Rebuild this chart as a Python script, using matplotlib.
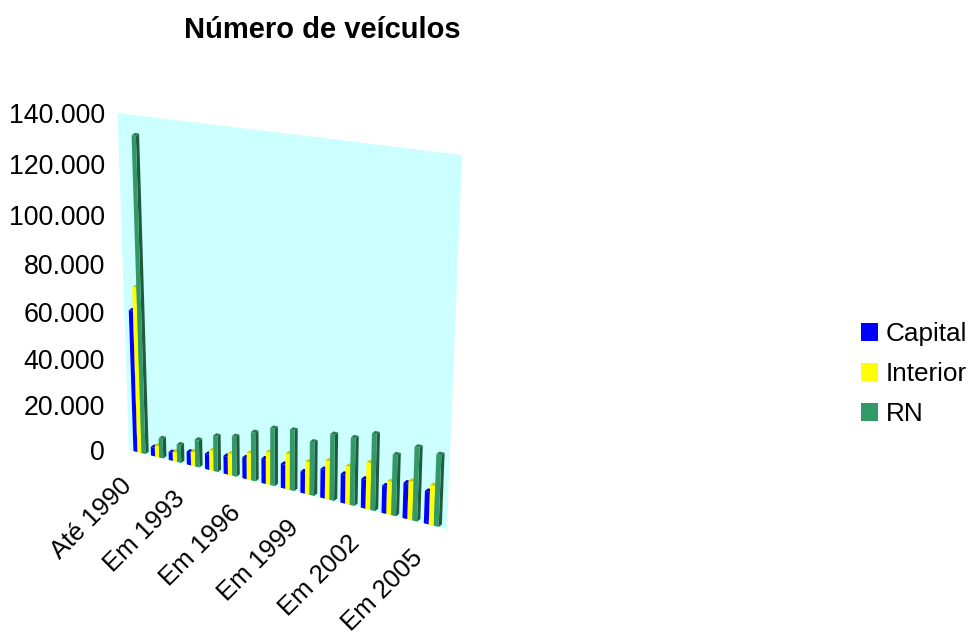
import numpy as np
import matplotlib
matplotlib.use("Agg")
import matplotlib.pyplot as plt
from matplotlib.transforms import Transform
from matplotlib.patches import Patch

plt.rcParams['font.family'] = ['Liberation Sans', 'DejaVu Sans']

# ---- data ----
categories = ["Até 1990", "Em 1991", "Em 1992", "Em 1993", "Em 1994", "Em 1995", "Em 1996", "Em 1997",
              "Em 1998", "Em 1999", "Em 2000", "Em 2001", "Em 2002", "Em 2003", "Em 2004", "Em 2005"]
capital = [61000, 3800, 3500, 5600, 6600, 7700, 9000, 10500, 10200, 9000, 12000, 12000, 12000, 11300, 14500, 13200]
interior = [71000, 5000, 4200, 6200, 8600, 9200, 11400, 13700, 15000, 13600, 16000, 15700, 19200, 13500, 15700, 16000]
rn = [132000, 8500, 7700, 11700, 15300, 17000, 20600, 24200, 25300, 22300, 27300, 27800, 31300, 24800, 29800, 28800]
y_ticks = [0, 20000, 40000, 60000, 80000, 100000, 120000, 140000]
y_tick_labels = ["0", "20.000", "40.000", "60.000", "80.000", "100.000", "120.000", "140.000"]
label_every = 3
series_names = ["Capital", "Interior", "RN"]

# ---- style ----
WALL = "#CCFFFF"
front_cols = ["#0000FF", "#FFFF00", "#339966"]
cap_cols = ["#0000CC", "#CCCC00", "#2A7D54"]
side_cols = ["#000099", "#999900", "#1F5C3D"]
VMAX = 140000
NCAT = len(categories)


class Projective(Transform):
    """Maps (category, value) on the tilted chart wall to pixel positions."""
    input_dims = 2
    output_dims = 2
    is_separable = False
    has_inverse = False

    def __init__(self, src, dst):
        super().__init__()
        A, b = [], []
        for (x, y), (X, Y) in zip(src, dst):
            A.append([x, y, 1, 0, 0, 0, -X * x, -X * y]); b.append(X)
            A.append([0, 0, 0, x, y, 1, -Y * x, -Y * y]); b.append(Y)
        h = np.linalg.solve(np.array(A, float), np.array(b, float))
        self.H = np.append(h, 1).reshape(3, 3)

    def transform_non_affine(self, values):
        v = np.asarray(values, float)
        p = np.c_[v, np.ones(len(v))] @ self.H.T
        return p[:, :2] / p[:, 2:3]


fig = plt.figure(figsize=(9.71, 6.35), dpi=100)
ax = fig.add_axes([0, 0, 1, 1])
ax.set_xlim(0, 971)
ax.set_ylim(635, 0)
ax.set_autoscale_on(False)
ax.axis("off")

proj = Projective([(0, 0), (NCAT, 0), (0, VMAX), (NCAT, VMAX)],
                  [(129, 450), (447, 529), (117.5, 113), (462, 155)])
T = proj + ax.transData

# wall
ax.fill([0, NCAT, NCAT, 0], [0, 0, VMAX, VMAX], color=WALL, lw=0, transform=T, zorder=1)

BW = 0.225
PAD = 0.25
STEP = 0.98
DX, DY = 3.2, -2.5   # depth of a bar, in pixels


def px(u, v):
    return proj.transform_non_affine(np.column_stack([u, v]))


for j, vals in enumerate([capital, interior, rn]):
    vals = np.asarray(vals, float)
    lefts = np.arange(NCAT) * STEP + PAD + j * BW
    for u, v in zip(lefts, vals):
        q = px([u, u + BW, u + BW, u], [0, 0, v, v])
        ax.fill([q[1, 0], q[1, 0] + DX, q[2, 0] + DX, q[2, 0]],
                [q[1, 1], q[1, 1] + DY, q[2, 1] + DY, q[2, 1]],
                color=side_cols[j], lw=0, zorder=2 + 2 * j)
        ax.fill([q[3, 0], q[2, 0], q[2, 0] + DX, q[3, 0] + DX],
                [q[3, 1], q[2, 1], q[2, 1] + DY, q[3, 1] + DY],
                color=cap_cols[j], lw=0, zorder=2 + 2 * j)
    ax.bar(lefts, vals, width=BW, align="edge", color=front_cols[j], lw=0,
           transform=T, zorder=3 + 2 * j)

# value labels
for v, lab in zip(y_ticks, y_tick_labels):
    y = px([0], [v])[0, 1]
    ax.text(105, y, lab, ha="right", va="center_baseline", fontsize=19.3, color="black")

# category labels
for i in range(0, NCAT, label_every):
    ax.annotate(categories[i], xy=(i * STEP + 0.5, 0), xycoords=T,
                xytext=(-10, -30), textcoords="offset pixels",
                rotation=45, rotation_mode="anchor", ha="right", va="center",
                fontsize=18.5, color="black")

ax.text(322, 30, "Número de veículos", ha="center", va="center",
        fontsize=21, fontweight="bold", color="black")

handles = [Patch(facecolor=c, edgecolor="none", label=n) for c, n in zip(front_cols, series_names)]
ax.legend(handles=handles, loc="upper left", bbox_to_anchor=(861, 322), bbox_transform=ax.transData,
          frameon=False, fontsize=18.8, borderpad=0, borderaxespad=0,
          handlelength=0.65, handleheight=0.65, handletextpad=0.3, labelspacing=0.62)

fig.savefig("out.png", dpi=100)
